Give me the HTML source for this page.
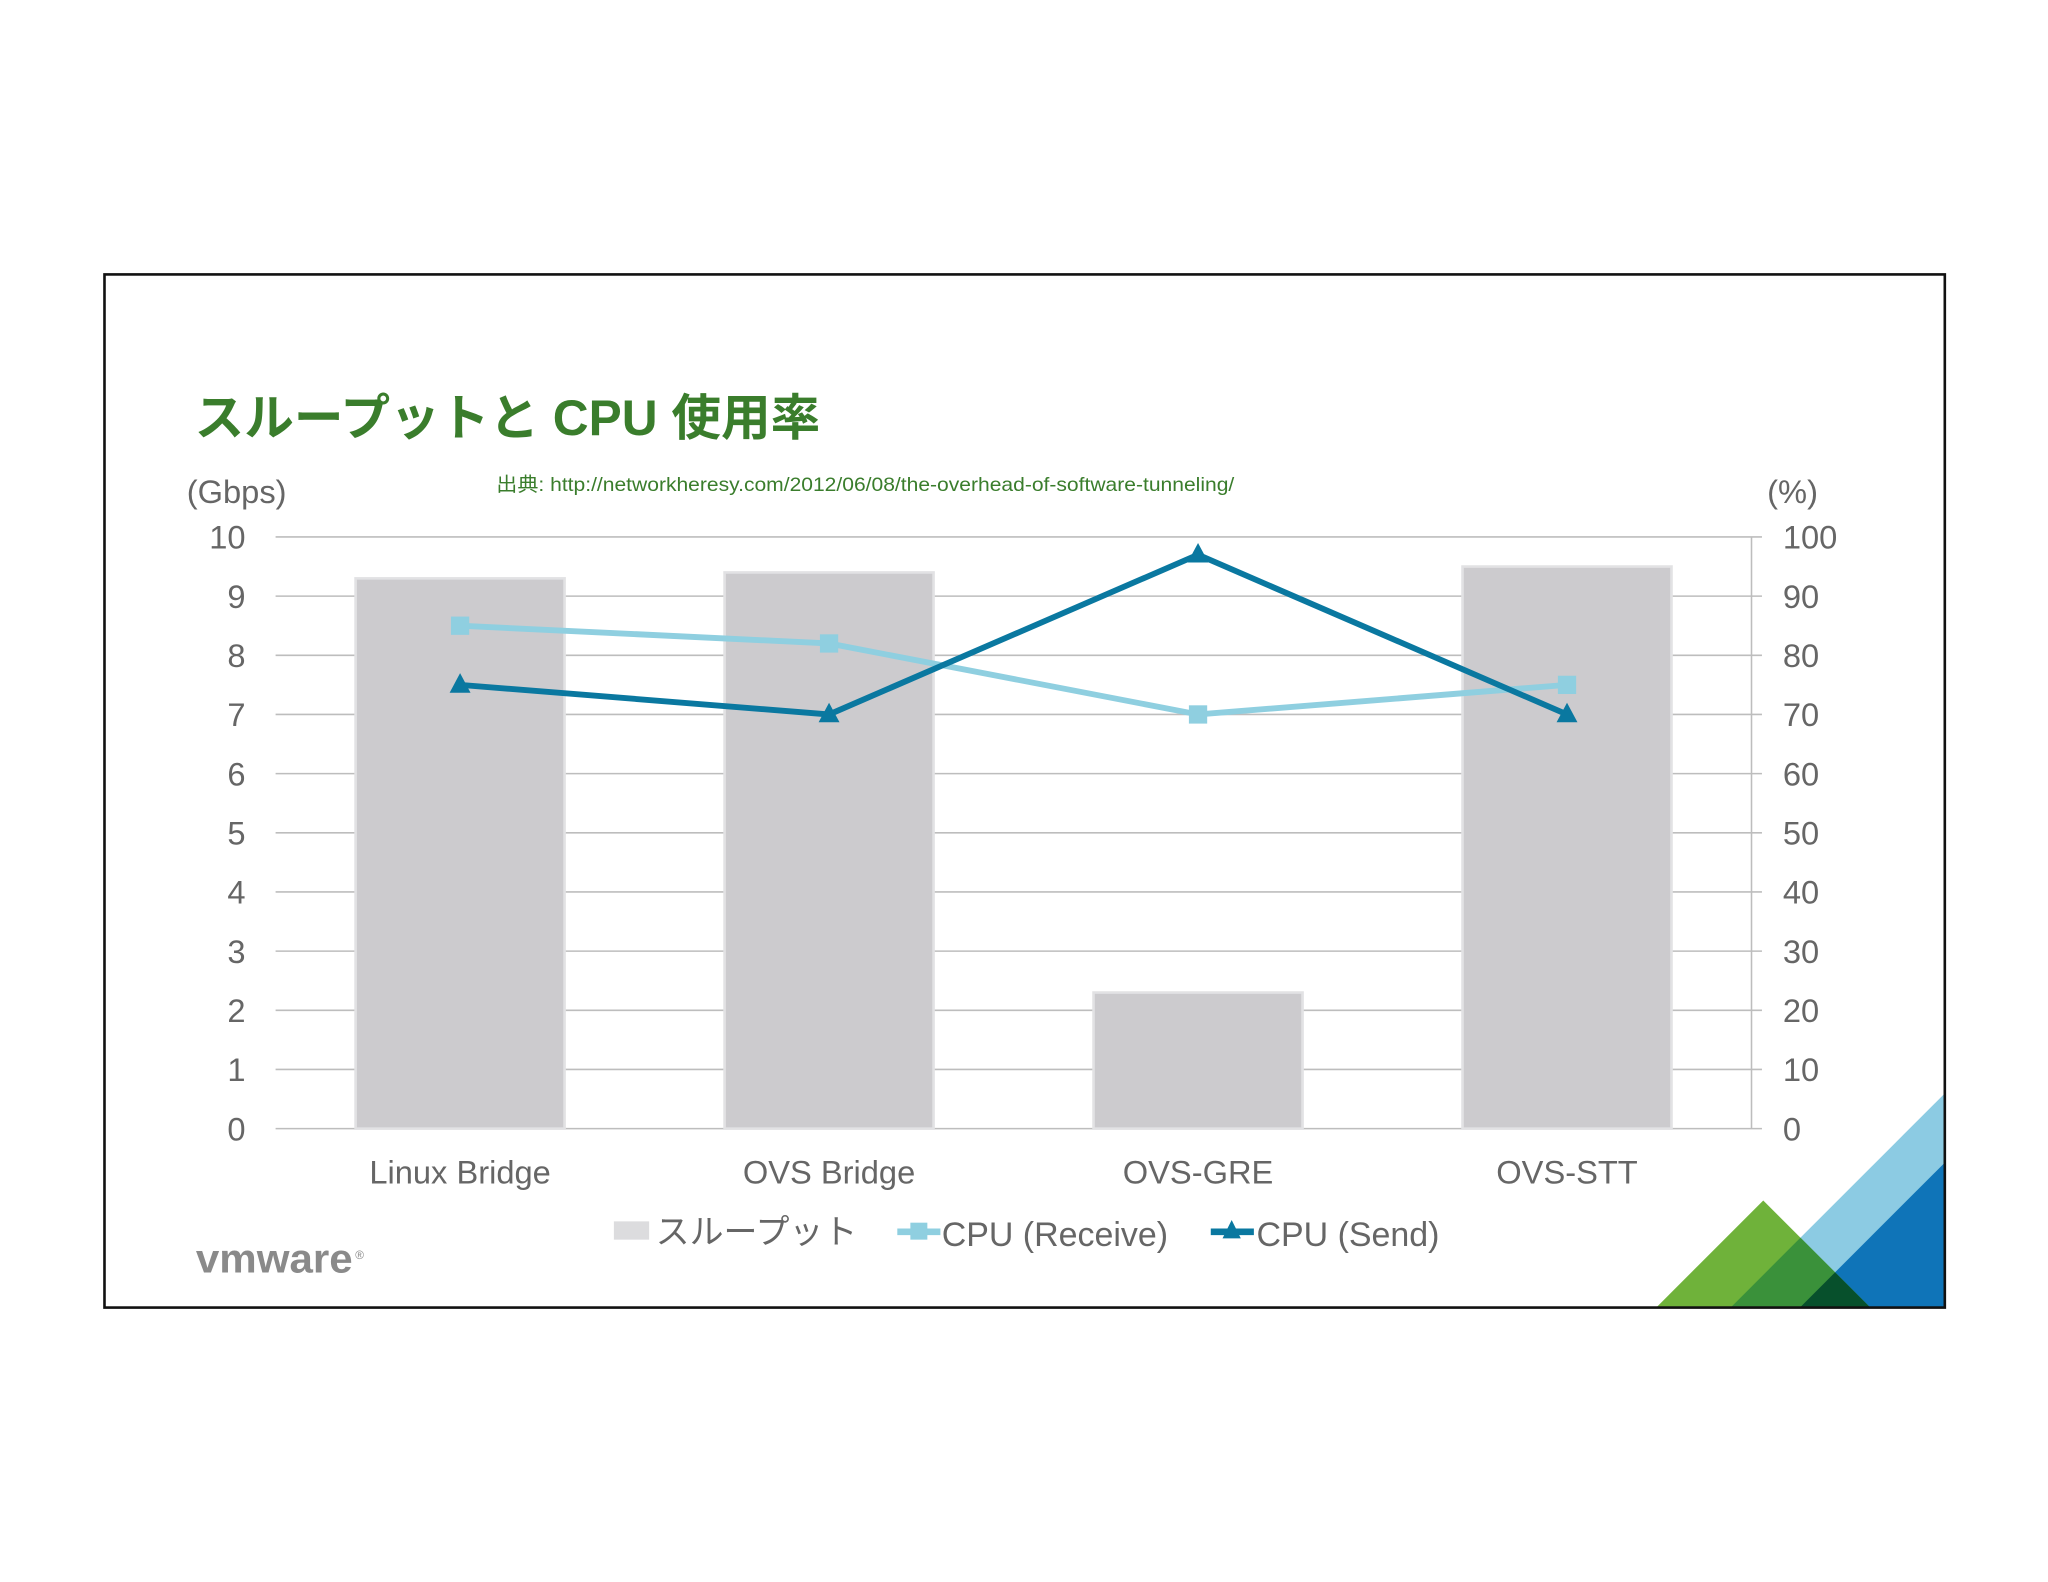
<!DOCTYPE html>
<html><head><meta charset="utf-8">
<style>
html,body{margin:0;padding:0;background:#fff;}
svg{display:block;}
text{font-family:"Liberation Sans Narrow","Liberation Sans","Noto Sans CJK JP",sans-serif;}
</style></head>
<body>
<svg id="chart" width="2048" height="1582" viewBox="0 0 1568 1211" xmlns="http://www.w3.org/2000/svg">
<defs>
<clipPath id="clipLight"><polygon points="1489,837 1489,1001 1325,1001"/></clipPath>
<clipPath id="clipDark"><polygon points="1489,890 1489,1001 1378,1001"/></clipPath>
</defs>
<rect x="0" y="0" width="1568" height="1211" fill="#fff"/>
<g id="deco">
<polygon points="1489,837 1489,1001 1325,1001" fill="#8ccbe3"/>
<polygon points="1489,890 1489,1001 1378,1001" fill="#0f74b8"/>
<polygon points="1350,919 1432,1001 1268,1001" fill="#6fb23a"/>
<polygon clip-path="url(#clipLight)" points="1350,919 1432,1001 1268,1001" fill="#3a913a"/>
<polygon clip-path="url(#clipDark)" points="1350,919 1432,1001 1268,1001" fill="#07502c"/>
</g>
<rect x="80" y="210" width="1409" height="791" fill="none" stroke="#111" stroke-width="2"/>
<text x="149" y="333" font-size="38" font-weight="bold" fill="#3a7d2c" style="font-family:'Liberation Sans','Noto Sans CJK JP',sans-serif">スループットと CPU 使用率</text>
<text x="380" y="376" font-size="15" fill="#3a7d2c" textLength="565" lengthAdjust="spacingAndGlyphs" style="font-family:'Liberation Sans','Noto Sans CJK JP',sans-serif">出典: http://networkheresy.com/2012/06/08/the-overhead-of-software-tunneling/</text>
<text x="143" y="385" font-size="25" fill="#666">(Gbps)</text>
<text x="1353" y="385" font-size="25" fill="#666">(%)</text>
<g id="grid"></g>
<g id="bars"></g>
<g id="lines"></g>
<g id="labels"></g>
<g>
<rect x="470" y="935" width="27" height="14" fill="#dcdcde"/>
<text x="502" y="952" font-size="26" fill="#666">スループット</text>
<line x1="687" y1="943" x2="720" y2="943" stroke="#8fcfe0" stroke-width="5"/>
<rect x="697" y="936" width="13" height="13" fill="#8fcfe0"/>
<text x="721" y="954" font-size="26" fill="#666">CPU (Receive)</text>
<line x1="927" y1="943" x2="960" y2="943" stroke="#0a78a0" stroke-width="5"/>
<polygon points="943,934 950,948 936,948" fill="#0a78a0"/>
<text x="962" y="954" font-size="26" fill="#666">CPU (Send)</text>
</g>
<text x="150" y="974" font-size="31" font-weight="bold" fill="#8a8a8a" textLength="120" lengthAdjust="spacingAndGlyphs" style="font-family:'Liberation Sans',sans-serif">vmware</text>
<text x="272" y="964" font-size="9" fill="#8a8a8a">®</text>
</svg>
<script>
const categories = ["Linux Bridge","OVS Bridge","OVS-GRE","OVS-STT"];
const throughput = [9.3, 9.4, 2.3, 9.5];
const cpuReceive = [85, 82, 70, 75];
const cpuSend = [75, 70, 97, 70];
const leftTicks = [0,1,2,3,4,5,6,7,8,9,10];
const rightTicks = [0,10,20,30,40,50,60,70,80,90,100];

const NS = "http://www.w3.org/2000/svg";
const X0 = 211, X1 = 1341, Y0 = 864, Y1 = 411;
const band = (X1 - X0) / categories.length;
const xC = i => X0 + band * (i + 0.5);
const yL = v => Y0 - (v / 10) * (Y0 - Y1);
const yR = v => Y0 - (v / 100) * (Y0 - Y1);
function mk(tag, attrs, parent) {
  const e = document.createElementNS(NS, tag);
  for (const k in attrs) e.setAttribute(k, attrs[k]);
  parent.appendChild(e);
  return e;
}
const grid = document.getElementById('grid');
const labels = document.getElementById('labels');
leftTicks.forEach((t, i) => {
  const y = yL(t);
  const g = mk('line', {x1: X0, x2: X1 + 8, y1: y, y2: y, stroke: '#bdbdbd', 'stroke-width': 1.2}, grid);
  
  
  const tl = mk('text', {x: 188, y: y + 9, 'font-size': 25, fill: '#666', 'text-anchor': 'end'}, labels);
  tl.textContent = t;
  
  
});
rightTicks.forEach(t => {
  const tr = mk('text', {x: 1365, y: yR(t) + 9, 'font-size': 25, fill: '#666'}, labels);
  tr.textContent = t;
  
  
});
const ax = mk('line', {x1: X1, x2: X1, y1: Y1, y2: Y0, stroke: '#bdbdbd', 'stroke-width': 1.2}, grid);


const bars = document.getElementById('bars');
throughput.forEach((v, i) => {
  const w = 160, x = xC(i) - w / 2;
  const b = mk('rect', {x: x, y: yL(v), width: w, height: Y0 - yL(v), fill: '#cccbce', stroke: '#e2e2e4', 'stroke-width': 2}, bars);
  
  
});
categories.forEach((c, i) => {
  const t = mk('text', {x: xC(i), y: 906, 'font-size': 25, fill: '#666', 'text-anchor': 'middle'}, labels);
  t.textContent = c;
  
  
});
const lines = document.getElementById('lines');
const rp = mk('polyline', {points: cpuReceive.map((v, i) => xC(i) + ',' + yR(v)).join(' '), fill: 'none', stroke: '#8fcfe0', 'stroke-width': 4.5}, lines);


cpuReceive.forEach((v, i) => {
  const m = mk('rect', {x: xC(i) - 7, y: yR(v) - 7, width: 14, height: 14, fill: '#8fcfe0'}, lines);
  
  
});
const sp = mk('polyline', {points: cpuSend.map((v, i) => xC(i) + ',' + yR(v)).join(' '), fill: 'none', stroke: '#0a78a0', 'stroke-width': 4.5}, lines);


cpuSend.forEach((v, i) => {
  const x = xC(i), y = yR(v);
  const m = mk('polygon', {points: `${x},${y - 9} ${x + 8},${y + 6} ${x - 8},${y + 6}`, fill: '#0a78a0'}, lines);
  
  
});
</script>
</body></html>
